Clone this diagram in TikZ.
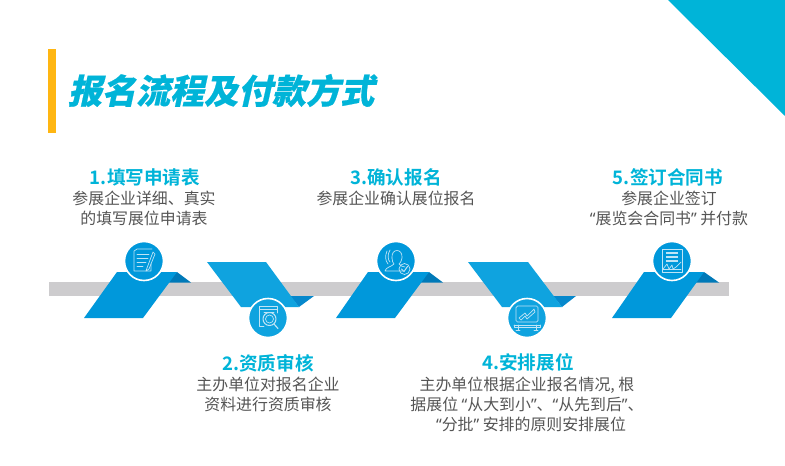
\documentclass[tikz,border=0pt]{standalone}
\usepackage{fontspec}
\setmainfont{Noto Sans CJK SC}
\newfontfamily\titlefont[FakeSlant=0.22,FakeBold=0.6]{Noto Sans CJK SC Black}
\newfontfamily\headfont{Noto Sans CJK SC Bold}
\newfontfamily\quotefont{Noto Sans}
\newcommand{\ql}{{\quotefont “}}
\newcommand{\qr}{{\quotefont ”}}
\definecolor{cyanT}{HTML}{00B4D8}
\definecolor{amberB}{HTML}{FFB612}
\definecolor{grayB}{HTML}{CDCCCE}
\definecolor{paraUp}{HTML}{0098DB}
\definecolor{paraDn}{HTML}{0FA3DF}
\definecolor{foldUp}{HTML}{0079B8}
\definecolor{foldDn}{HTML}{0688CC}
\definecolor{bodyT}{HTML}{555555}
\definecolor{iconL}{HTML}{BFE4F6}
\tikzset{
  x=1pt,y=-1pt,
  head/.style={font=\headfont\fontsize{18.6}{20}\selectfont,text=cyanT,inner sep=0pt,anchor=center},
  body/.style={font=\fontsize{15.9}{20}\selectfont,text=bodyT,inner sep=0pt,align=center,anchor=center},
  disc/.style={circle,fill=paraUp,draw=white,line width=1.6pt,minimum size=39pt,inner sep=0pt},
  discd/.style={disc,fill=paraDn},
  ico/.style={draw=iconL,line width=0.7pt,line join=round,line cap=round},
}
\begin{document}
\begin{tikzpicture}
\useasboundingbox (0,0) rectangle (785,466);
\fill[white] (0,0) rectangle (785,466);
\fill[cyanT] (668,0) -- (785,0) -- (785,116) -- cycle;
\fill[amberB] (48,49) rectangle (56,133);
\node[font=\titlefont\fontsize{34}{36}\selectfont,text=cyanT,inner sep=0pt,anchor=center] (title) at (221,90.5) {报名流程及付款方式};
\fill[grayB] (49,282) rectangle (729,296);
% step 1
\fill[foldUp] (177,272) -- (191,282.5) -- (165,282.5) -- cycle;
\fill[paraUp] (117,272) -- (177,272) -- (143,318) -- (84,318) -- cycle;
% step 2
\fill[foldDn] (299,307) -- (314,296) -- (290,296) -- cycle;
\fill[paraDn] (207,262) -- (266,262) -- (299,307) -- (241,307) -- cycle;
% step 3
\fill[foldUp] (429,272) -- (443,282.5) -- (417,282.5) -- cycle;
\fill[paraUp] (368,272) -- (429,272) -- (395,318) -- (336,318) -- cycle;
% step 4
\fill[foldDn] (562,307) -- (576,296) -- (553,296) -- cycle;
\fill[paraDn] (468,262) -- (528,262) -- (562,307) -- (502,307) -- cycle;
% step 5
\fill[foldUp] (704,272) -- (719,282.5) -- (692,282.5) -- cycle;
\fill[paraUp] (644,272) -- (704,272) -- (671,318) -- (612,318) -- cycle;
% discs
\node[disc] (c1) at (144,261) {};
\node[discd] (c2) at (268,318) {};
\node[disc] (c3) at (396,261) {};
\node[discd] (c4) at (527,318) {};
\node[disc] (c5) at (672,261) {};
% icon 1: form and pen
\begin{scope}[shift={(144,261)}]
\draw[ico] (8,-12) -- (-7,-12) -- (-10,-10) -- (-10,10) -- (7,10) -- (7,3);
\draw[ico] (-7,-7) -- (5,-7) (-7,-3) -- (4,-3) (-7,1) -- (2,1) (-7,5) -- (-1,5);
\draw[ico] (9,-9) -- (3,7) -- (2,10) -- (5,8) -- (11,-7) -- cycle;
\end{scope}
% icon 2: document and magnifier
\begin{scope}[shift={(268,318)}]
\draw[ico] (-9,-12) rectangle (9,-9);
\draw[ico] (-9,-9) -- (-9,8) -- (-4,8);
\draw[ico] (9,-9) -- (9,-5);
\draw[ico] (-4,-6) -- (6,-6);
\draw[ico,line width=1pt] (1.5,1) circle (6.5);
\draw[ico] (1.5,1) circle (4);
\draw[ico,line width=1.2pt] (6,6) -- (10,10.5);
\end{scope}
% icon 3: person and check
\begin{scope}[shift={(396,261)}]
\draw[ico] (-4,-3) .. controls (-5,-13) and (7,-13) .. (6,-3) .. controls (6,0) and (4,2) .. (3,3) .. controls (5,5) and (7,6) .. (9,6);
\draw[ico] (-4,-3) .. controls (-4,0) and (-3,2) .. (-2,3) .. controls (-5,6) and (-10,6) .. (-11,10) -- (7,10);
\draw[ico] (-6,-11) .. controls (-9,-6) and (-8,-1) .. (-6,1);
\draw[ico] (-9,-10) .. controls (-11,-5) and (-11,-1) .. (-8,3);
\draw[ico] (8.5,8) circle (5.5);
\draw[ico,line width=1pt] (5.5,8) -- (8,10.5) -- (11.5,5.5);
\end{scope}
% icon 4: chart on board
\begin{scope}[shift={(527,318)}]
\draw[ico,rounded corners=1.5pt] (-11,-12) rectangle (11,4);
\draw[ico] (-8,0) -- (-2,-5) -- (0,-2) -- (7,-9) -- (8,-6) -- (0,1) -- (-2,-2) -- (-6,2) -- cycle;
\draw[ico] (-13,7) -- (13,7) (-9,7) -- (-9,12) (9,7) -- (9,12) (-11,12) -- (-7,12) (7,12) -- (11,12) (-13,7) -- (-13,9) -- (13,9) -- (13,7);
\end{scope}
% icon 5: contract
\begin{scope}[shift={(672,261)}]
\draw[ico] (-10,-12) rectangle (10,11);
\draw[iconL,line width=1.2pt] (-6,-8) -- (6,-8) (-6,-4) -- (6,-4) (-6,0) -- (6,0);
\draw[ico] (-9,8) -- (-5,3) -- (-3,8) -- (0,4) -- (1,8) -- (4,6) -- (9,1);
\draw[ico] (-9,8) -- (9,8);
\end{scope}
% texts
\node[head] (h1) at (145,177) {1.填写申请表};
\node[body] (b1) at (144,208) {参展企业详细、真实\\的填写展位申请表};
\node[head] (h2) at (268,363) {2.资质审核};
\node[body] (b2) at (268,394) {主办单位对报名企业\\资料进行资质审核};
\node[head] (h3) at (396,177) {3.确认报名};
\node[body] (b3) at (396,198) {参展企业确认展位报名};
\node[head] (h4) at (528,362) {4.安排展位};
\node[body] (b4) at (527,404) {主办单位根据企业报名情况, 根\\据展位 \ql 从大到小\qr 、\ql 从先到后\qr 、\\\hspace{8pt}\ql 分批\qr\ 安排的原则安排展位};
\node[head] (h5) at (668,177) {5.签订合同书};
\node[body] (b5) at (669,208) {参展企业签订\\\ql 展览会合同书\qr\ 并付款};
\end{tikzpicture}
\end{document}
